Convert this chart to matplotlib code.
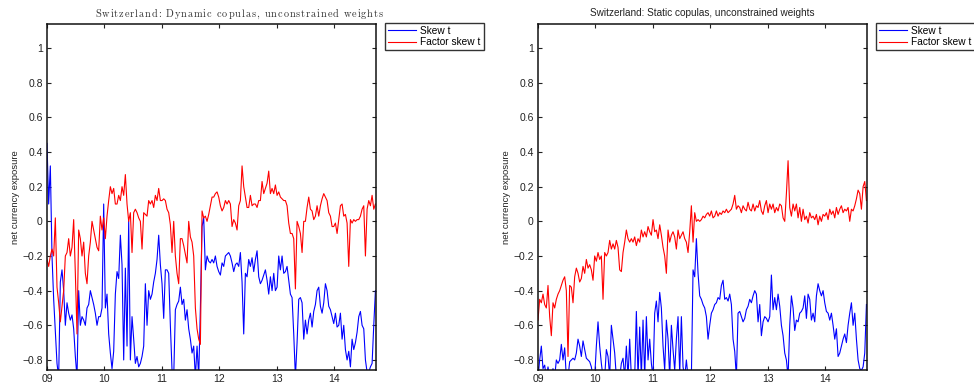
import numpy as np
import matplotlib
matplotlib.use("Agg")
import matplotlib.pyplot as plt
from matplotlib.font_manager import FontProperties

# ---------------------------------------------------------------- data
# Net currency exposure of the Swiss franc, sampled on an even time grid
# (years 2009 .. late 2014)
n_obs = 198
dates = np.linspace(2009.0, 2014.72, n_obs)

dyn_skew_t = [
    0.45, 0.1, 0.32, -0.2, -0.45, -0.64, -0.82, -0.9, -0.35, -0.28,
    -0.4, -0.6, -0.47, -0.53, -0.57, -0.54, -0.62, -0.78, -0.9, -0.4,
    -0.6, -0.55, -0.57, -0.6, -0.5, -0.48, -0.4, -0.44, -0.48, -0.53,
    -0.6, -0.55, -0.55, -0.5, 0.1, -0.5, -0.42, -0.65, -0.76, -0.85,
    -0.75, -0.42, -0.29, -0.33, -0.08, -0.25, -0.8, -0.27, -0.72, 0.0,
    -0.8, -0.55, -0.68, -0.82, -0.78, -0.84, -0.82, -0.78, -0.72, -0.36,
    -0.6, -0.4, -0.45, -0.42, -0.35, -0.3, -0.22, -0.08, -0.25, -0.36,
    -0.56, -0.28, -0.28, -0.3, -0.6, -0.86, -0.9, -0.51, -0.48, -0.46,
    -0.38, -0.48, -0.45, -0.57, -0.51, -0.62, -0.68, -0.76, -0.72, -0.9,
    -0.72, -0.9, -0.5, -0.03, 0.02, -0.28, -0.2, -0.23, -0.24, -0.22,
    -0.24, -0.2, -0.26, -0.29, -0.31, -0.24, -0.26, -0.2, -0.19, -0.18,
    -0.2, -0.24, -0.29, -0.25, -0.24, -0.26, -0.18, -0.35, -0.65, -0.3,
    -0.32, -0.22, -0.26, -0.21, -0.29, -0.22, -0.17, -0.32, -0.36, -0.34,
    -0.31, -0.28, -0.34, -0.42, -0.32, -0.4, -0.3, -0.4, -0.38, -0.2,
    -0.28, -0.2, -0.3, -0.29, -0.26, -0.34, -0.42, -0.44, -0.65, -0.9,
    -0.7, -0.45, -0.44, -0.47, -0.68, -0.57, -0.65, -0.57, -0.53, -0.61,
    -0.52, -0.48, -0.4, -0.38, -0.49, -0.53, -0.47, -0.36, -0.4, -0.49,
    -0.51, -0.55, -0.59, -0.53, -0.61, -0.6, -0.53, -0.68, -0.6, -0.74,
    -0.8, -0.75, -0.84, -0.68, -0.74, -0.7, -0.64, -0.55, -0.52, -0.6,
    -0.62, -0.8, -0.87, -0.87, -0.84, -0.82, -0.6, -0.4,
]

dyn_factor_skew_t = [
    -0.22, -0.26, -0.2, -0.16, -0.2, 0.02, -0.38, -0.47, -0.58, -0.49,
    -0.4, -0.2, -0.18, -0.1, -0.2, -0.15, 0.01, -0.3, -0.65, -0.05,
    -0.1, -0.2, -0.12, -0.3, -0.36, -0.2, -0.12, 0.0, -0.05, -0.1,
    -0.15, -0.17, 0.03, -0.05, 0.02, -0.1, 0.03, 0.12, 0.2, 0.16,
    0.19, 0.1, 0.1, 0.15, 0.12, 0.2, 0.15, 0.27, 0.1, 0.0,
    0.05, -0.18, 0.05, 0.07, 0.05, 0.02, 0.0, -0.16, 0.05, 0.04,
    0.03, 0.12, 0.1, 0.12, 0.08, 0.15, 0.12, 0.19, 0.12, 0.12,
    0.13, 0.12, 0.07, 0.05, -0.02, -0.18, 0.0, -0.2, -0.3, -0.36,
    -0.1, -0.1, -0.14, -0.19, -0.24, 0.0, -0.09, -0.12, -0.2, -0.5,
    -0.62, -0.68, -0.71, 0.06, 0.02, 0.03, -0.0, 0.04, 0.09, 0.14,
    0.14, 0.16, 0.17, 0.14, 0.09, 0.06, 0.08, 0.12, 0.1, 0.12,
    0.1, -0.03, 0.01, -0.01, -0.05, 0.09, 0.12, 0.32, 0.2, 0.14,
    0.08, 0.08, 0.15, 0.09, 0.1, 0.1, 0.08, 0.12, 0.12, 0.23,
    0.16, 0.19, 0.22, 0.29, 0.16, 0.19, 0.16, 0.21, 0.15, 0.17,
    0.14, 0.13, 0.12, 0.12, 0.09, -0.01, -0.07, -0.07, -0.1, -0.39,
    -0.0, -0.03, -0.07, -0.18, -0.0, -0.0, 0.08, 0.14, 0.07, 0.06,
    0.01, 0.03, 0.09, 0.03, 0.09, 0.13, 0.16, 0.14, 0.12, 0.05,
    0.03, -0.03, -0.03, -0.01, -0.07, 0.01, 0.09, 0.1, 0.03, 0.04,
    -0.01, -0.26, 0.01, -0.01, 0.01, 0.0, 0.01, 0.01, 0.03, 0.07,
    0.09, -0.2, 0.07, 0.12, 0.09, 0.15, 0.07, 0.1,
]

sta_skew_t = [
    -0.9, -0.8, -0.72, -0.85, -0.83, -0.9, -0.84, -0.9, -0.9, -0.85,
    -0.9, -0.8, -0.82, -0.8, -0.71, -0.8, -0.73, -0.9, -0.9, -0.81,
    -0.8, -0.79, -0.8, -0.76, -0.68, -0.72, -0.78, -0.69, -0.74, -0.79,
    -0.8, -0.81, -0.84, -0.9, -0.9, -0.72, -0.58, -0.72, -0.82, -0.9,
    -0.9, -0.74, -0.78, -0.9, -0.6, -0.68, -0.76, -0.9, -0.9, -0.9,
    -0.82, -0.79, -0.9, -0.72, -0.9, -0.68, -0.9, -0.9, -0.9, -0.52,
    -0.9, -0.61, -0.9, -0.57, -0.9, -0.55, -0.8, -0.68, -0.82, -0.9,
    -0.53, -0.46, -0.58, -0.41, -0.5, -0.72, -0.86, -0.57, -0.68, -0.9,
    -0.6, -0.74, -0.86, -0.68, -0.55, -0.88, -0.55, -0.84, -0.9, -0.8,
    -0.9, -0.9, -0.9, -0.28, -0.32, -0.1, -0.3, -0.43, -0.45, -0.48,
    -0.5, -0.55, -0.68, -0.6, -0.53, -0.51, -0.48, -0.47, -0.44, -0.45,
    -0.37, -0.34, -0.45, -0.44, -0.46, -0.42, -0.48, -0.68, -0.75, -0.9,
    -0.53, -0.52, -0.55, -0.58, -0.56, -0.51, -0.49, -0.45, -0.47, -0.43,
    -0.4, -0.42, -0.58, -0.48, -0.66, -0.58, -0.55, -0.56, -0.58, -0.55,
    -0.31, -0.51, -0.44, -0.51, -0.42, -0.49, -0.6, -0.66, -0.76, -0.8,
    -0.9, -0.6, -0.43, -0.5, -0.63, -0.57, -0.58, -0.53, -0.52, -0.5,
    -0.43, -0.56, -0.42, -0.45, -0.57, -0.53, -0.58, -0.43, -0.36, -0.4,
    -0.43, -0.4, -0.47, -0.52, -0.53, -0.57, -0.53, -0.6, -0.68, -0.62,
    -0.78, -0.76, -0.72, -0.68, -0.65, -0.7, -0.6, -0.53, -0.47, -0.6,
    -0.53, -0.68, -0.8, -0.85, -0.86, -0.84, -0.76, -0.48,
]

sta_factor_skew_t = [
    -0.57, -0.45, -0.47, -0.42, -0.48, -0.5, -0.37, -0.55, -0.66, -0.47,
    -0.5, -0.45, -0.42, -0.4, -0.37, -0.34, -0.32, -0.4, -0.78, -0.37,
    -0.38, -0.47, -0.32, -0.27, -0.3, -0.35, -0.33, -0.26, -0.3, -0.22,
    -0.27, -0.25, -0.28, -0.34, -0.2, -0.23, -0.18, -0.22, -0.2, -0.45,
    -0.18, -0.2, -0.18, -0.11, -0.16, -0.13, -0.16, -0.11, -0.15, -0.28,
    -0.29, -0.18, -0.12, -0.05, -0.1, -0.12, -0.1, -0.12, -0.09, -0.14,
    -0.1, -0.12, -0.05, -0.09, -0.06, -0.09, -0.03, -0.06, -0.08, 0.01,
    -0.06, -0.05, -0.1, -0.02, -0.08, -0.15, -0.2, -0.3, -0.05, -0.12,
    -0.08, -0.06, -0.09, -0.16, -0.05, -0.1, -0.08, -0.06, -0.1, -0.12,
    -0.18, -0.06, 0.09, -0.12, 0.05, 0.0, 0.01, 0.0, 0.01, 0.03,
    0.02, 0.04, 0.05, 0.03, 0.06, 0.02, 0.03, 0.06, 0.03, 0.05,
    0.04, 0.06, 0.05, 0.07, 0.05, 0.06, 0.07, 0.1, 0.15, 0.07,
    0.09, 0.08, 0.05, 0.09, 0.07, 0.06, 0.11, 0.07, 0.06, 0.1,
    0.06, 0.09, 0.08, 0.12, 0.06, 0.04, 0.09, 0.12, 0.05, 0.1,
    0.07, 0.1, 0.05, 0.08, 0.06, 0.1, 0.09, 0.02, 0.0, 0.16,
    0.35, 0.08, 0.03, 0.1, 0.06, 0.1, 0.02, 0.08, 0.0, 0.07,
    0.01, 0.03, -0.01, 0.05, 0.02, 0.03, 0.01, 0.04, -0.02, 0.03,
    0.0, 0.04, 0.03, 0.05, 0.01, 0.07, 0.04, 0.06, 0.02, 0.08,
    0.04, 0.07, 0.09, 0.05, 0.07, 0.06, 0.08, 0.0, 0.07, 0.06,
    0.09, 0.13, 0.18, 0.16, 0.07, 0.2, 0.23, 0.12,
]

series_labels = ["Skew t", "Factor skew t"]
year_ticks = [2009, 2010, 2011, 2012, 2013, 2014]
year_labels = ["09", "10", "11", "12", "13", "14"]
value_ticks = [-0.8, -0.6, -0.4, -0.2, 0, 0.2, 0.4, 0.6, 0.8, 1]
value_labels = ["\u22120.8", "\u22120.6", "\u22120.4", "\u22120.2", "0",
                "0.2", "0.4", "0.6", "0.8", "1"]
titles = ["Switzerland: Dynamic copulas, unconstrained weights",
          "Switzerland: Static copulas, unconstrained weights"]
y_label = "net currency exposure"

# ---------------------------------------------------------------- figure
SANS = "Liberation Sans"
W, H = 974, 389
fig = plt.figure(figsize=(W / 100, H / 100), dpi=100)
fig.patch.set_facecolor("white")


def px_axes(left, top, right, bottom):
    return fig.add_axes([left / W, 1 - bottom / H, (right - left) / W,
                         (bottom - top) / H])


def tracked_text(s, cx, cy, tracking, prop, color):
    """Draw s centred at pixel (cx, cy) with extra letter spacing."""
    renderer = fig.canvas.get_renderer()

    def width(txt):
        return renderer.get_text_width_height_descent(txt, prop,
                                                      ismath=False)[0]

    bar = width("|")
    offsets = [width(s[:k] + "|") - bar + k * tracking for k in range(len(s))]
    total = width(s) + (len(s) - 1) * tracking
    x0 = cx - total / 2
    for ch, off in zip(s, offsets):
        if ch == " ":
            continue
        fig.text((x0 + off) / W, 1 - cy / H, ch, fontproperties=prop,
                 color=color, ha="left", va="center")


panels = [
    (px_axes(47, 24, 376, 370), dyn_skew_t, dyn_factor_skew_t),
    (px_axes(538, 24, 867, 370), sta_skew_t, sta_factor_skew_t),
]

for i, (ax, blue_vals, red_vals) in enumerate(panels):
    ax.plot(dates, blue_vals, color=(0, 0, 1), lw=0.8, label=series_labels[0])
    ax.plot(dates, red_vals, color=(1, 0, 0), lw=0.8, label=series_labels[1])

    ax.set_xlim(2009.0, 2014.73)
    ax.set_ylim(-0.858, 1.139)
    ax.set_xticks(year_ticks)
    ax.set_xticklabels(year_labels)
    ax.set_yticks(value_ticks)
    ax.set_yticklabels(value_labels)
    ax.tick_params(direction="in", top=True, right=True, length=3,
                   width=0.8, labelsize=7.5, pad=3, colors="#222222")
    for lab in ax.get_xticklabels() + ax.get_yticklabels():
        lab.set_fontfamily(SANS)
    for sp in ax.spines.values():
        sp.set_linewidth(1.1)
        sp.set_color("#111111")

    ax.set_ylabel(y_label, fontsize=6.8, fontfamily=SANS, color="#222222")
    ax.yaxis.set_label_coords(-(47 - 20) / 329, 0.5)

    leg = ax.legend(loc="upper left", bbox_to_anchor=(1.027, 1.004),
                    prop={"family": SANS, "size": 7.3},
                    frameon=True, fancybox=False, borderpad=0.3,
                    labelspacing=0.15, handlelength=2.8, handletextpad=0.4,
                    borderaxespad=0.0)
    leg.get_frame().set_edgecolor("black")
    leg.get_frame().set_linewidth(1.0)

# panel titles: letter-spaced serif on the dynamic panel, sans on the static
tracked_text(titles[0], 239, 14, 0.9,
             FontProperties(family="cmr10", size=7.4), "#333333")
panels[1][0].text(0.5, 1 + 11 / 346, titles[1],
                  transform=panels[1][0].transAxes, ha="center",
                  va="center", fontsize=7.2, fontfamily=SANS,
                  color="#222222")

fig.savefig("out.png", dpi=100, facecolor="white")
